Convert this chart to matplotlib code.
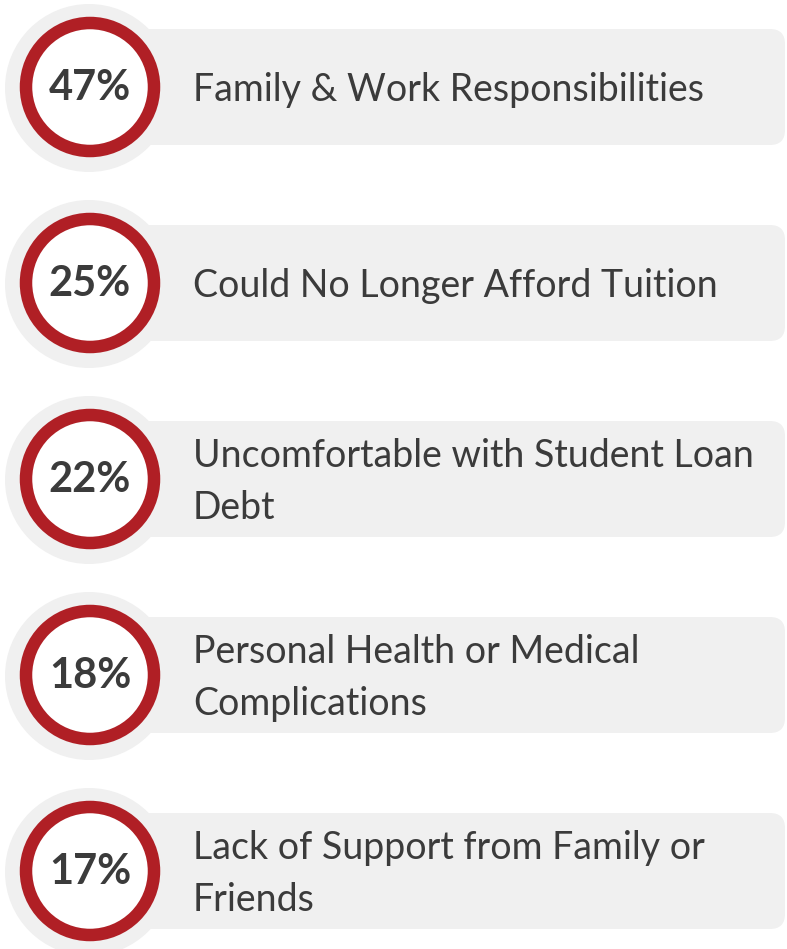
import matplotlib.pyplot as plt
from matplotlib.patches import Circle, FancyBboxPatch

percents = [47, 25, 22, 18, 17]
reasons = [
    "Family & Work Responsibilities",
    "Could No Longer Afford Tuition",
    "Uncomfortable with Student Loan\nDebt",
    "Personal Health or Medical\nComplications",
    "Lack of Support from Family or\nFriends",
]

red = "#b01f25"
grey = "#f0f0f0"
text_col = "#3b3b3b"

fig = plt.figure(figsize=(7.87, 9.49), dpi=100)
ax = fig.add_axes([0, 0, 1, 1])
ax.set_xlim(0, 787)
ax.set_ylim(949, 0)
ax.axis("off")

row_gap = 196
for i, (pct, reason) in enumerate(zip(percents, reasons)):
    cy = 87 + i * row_gap
    # grey bar behind
    ax.add_patch(FancyBboxPatch((60, cy - 58), 727 - 2, 116,
                                boxstyle="round,pad=0,rounding_size=15",
                                fc=grey, ec="none", zorder=1))
    # halo circle
    ax.add_patch(Circle((89, cy + 1), 84, fc=grey, ec="none", zorder=2))
    # red ring
    ax.add_patch(Circle((90, cy), 64, fc="white", ec=red, lw=9, zorder=3))
    ax.text(90, cy + 1, f"{pct}%", ha="center", va="center", fontsize=30,
            fontweight="bold", family="Lato", color=text_col, zorder=4)
    ax.text(193, cy + 3, reason, ha="left", va="center", fontsize=27,
            family="Lato", color=text_col, linespacing=1.58, zorder=4)

fig.savefig("out.png", dpi=100)
